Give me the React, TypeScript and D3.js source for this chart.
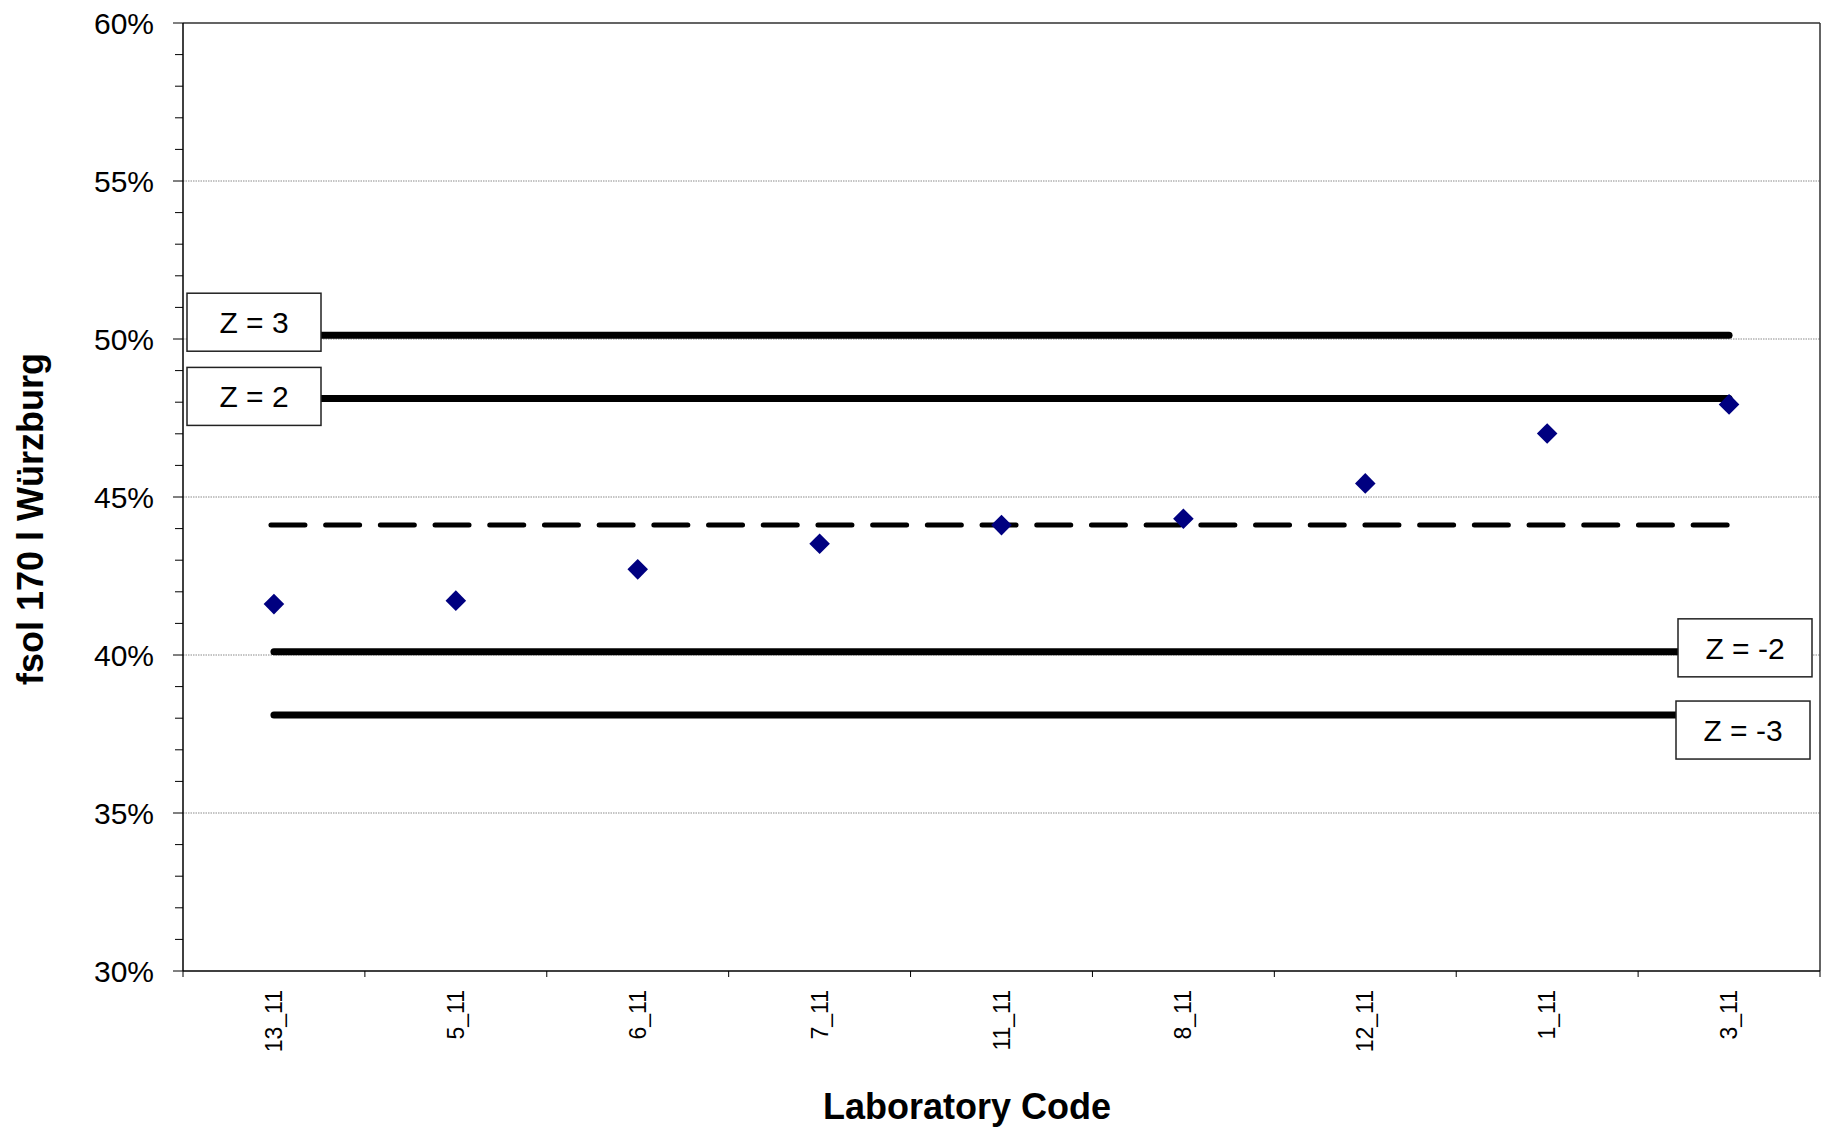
import React from "react";
import * as d3 from "d3";

const categories = ["13_11", "5_11", "6_11", "7_11", "11_11", "8_11", "12_11", "1_11", "3_11"];
const values = [41.61, 41.72, 42.71, 43.52, 44.11, 44.31, 45.43, 47.01, 47.93];
const meanValue = 44.11;
const zLabels = ["Z = 3", "Z = 2", "Z = -2", "Z = -3"];
const zValues = [50.12, 48.12, 40.1, 38.1];
const yMajorTicks = [30, 35, 40, 45, 50, 55, 60];
const yTickLabels = ["30%", "35%", "40%", "45%", "50%", "55%", "60%"];
const yTitle = "fsol 170 l Würzburg";
const xTitle = "Laboratory Code";

const W = 1821;
const H = 1128;
const M = { left: 183, right: 1820, top: 23, bottom: 971 };
const FONT = "'Liberation Sans', Arial, Helvetica, sans-serif";

// layout for annotation boxes (left x, vertical offset from its line)
const boxLayout = [
  { x: 187, dy: -13 },
  { x: 187, dy: -2 },
  { x: 1678, dy: -4 },
  { x: 1676, dy: 15 },
];
const BOX_W = 134;
const BOX_H = 58;

export default function App() {
  const x = d3.scaleBand<string>().domain(categories).range([M.left, M.right]).padding(0);
  const y = d3.scaleLinear().domain([30, 60]).range([M.bottom, M.top]);
  const cx = (c: string) => (x(c) as number) + x.bandwidth() / 2;
  const minorTicks = d3.range(30, 61, 1).filter((v) => v % 5 !== 0);
  const bounds = categories.map((c) => x(c) as number).concat([M.right]);
  const x0 = cx(categories[0]);
  const x1 = cx(categories[categories.length - 1]);
  const diamond = d3.symbol().type(d3.symbolDiamond2).size(270)();

  return (
    <svg
      width={W}
      height={H}
      style={{ position: "absolute", left: 0, top: 0, background: "#fff" }}
      fontFamily={FONT}
    >
      <rect x={0} y={0} width={W} height={H} fill="#fff" />
      {yMajorTicks
        .filter((v) => v !== 30 && v !== 60)
        .map((v) => (
          <line
            key={"g" + v}
            x1={M.left}
            x2={M.right}
            y1={y(v)}
            y2={y(v)}
            stroke="#8a8a8a"
            strokeWidth={1}
            strokeDasharray="1.5 1"
          />
        ))}
      <line x1={M.left} x2={M.right} y1={M.top} y2={M.top} stroke="#303030" strokeWidth={1.5} />
      <line x1={M.right} x2={M.right} y1={M.top} y2={M.bottom} stroke="#303030" strokeWidth={1.5} />
      <line x1={M.left} x2={M.left} y1={M.top} y2={M.bottom} stroke="#000" strokeWidth={1.5} />
      <line x1={M.left} x2={M.right} y1={M.bottom} y2={M.bottom} stroke="#000" strokeWidth={1.5} />
      {yMajorTicks.map((v, i) => (
        <g key={"yt" + v}>
          <line x1={M.left - 10} x2={M.left} y1={y(v)} y2={y(v)} stroke="#000" strokeWidth={1} />
          <text x={154} y={y(v)} dy="0.35em" textAnchor="end" fontSize={30} fill="#000">
            {yTickLabels[i]}
          </text>
        </g>
      ))}
      {minorTicks.map((v) => (
        <line key={"ym" + v} x1={M.left - 8} x2={M.left} y1={y(v)} y2={y(v)} stroke="#000" strokeWidth={1} />
      ))}
      {bounds.map((b, i) => (
        <line key={"xt" + i} x1={b} x2={b} y1={M.bottom} y2={M.bottom + 6} stroke="#000" strokeWidth={1} />
      ))}
      {categories.map((c) => (
        <text
          key={"xl" + c}
          transform={`translate(${cx(c) + 8},${990}) rotate(-90)`}
          textAnchor="end"
          fontSize={23}
          fill="#000"
        >
          {c}
        </text>
      ))}
      <line
        x1={x0 - 3}
        x2={x1}
        y1={y(meanValue)}
        y2={y(meanValue)}
        stroke="#000"
        strokeWidth={5}
        strokeLinecap="round"
        strokeDasharray="34 20.7"
      />
      {zValues.map((v, i) => (
        <line
          key={"z" + i}
          x1={x0}
          x2={x1}
          y1={y(v)}
          y2={y(v)}
          stroke="#000"
          strokeWidth={7}
          strokeLinecap="round"
        />
      ))}
      {values.map((v, i) => (
        <path
          key={"p" + i}
          d={diamond as string}
          transform={`translate(${cx(categories[i])},${y(v)})`}
          fill="#000080"
        />
      ))}
      {zValues.map((v, i) => {
        const cy = y(v) + boxLayout[i].dy;
        const bx = boxLayout[i].x;
        return (
          <g key={"zb" + i}>
            <rect
              x={bx}
              y={cy - BOX_H / 2}
              width={BOX_W}
              height={BOX_H}
              fill="#fff"
              stroke="#222"
              strokeWidth={1.5}
            />
            <text x={bx + BOX_W / 2} y={cy} dy="0.36em" textAnchor="middle" fontSize={30} fill="#000">
              {zLabels[i]}
            </text>
          </g>
        );
      })}
      <text
        transform={`translate(43,519) rotate(-90)`}
        textAnchor="middle"
        fontSize={36}
        fontWeight="bold"
        fill="#000"
      >
        {yTitle}
      </text>
      <text x={967} y={1119} textAnchor="middle" fontSize={36} fontWeight="bold" fill="#000">
        {xTitle}
      </text>
    </svg>
  );
}
